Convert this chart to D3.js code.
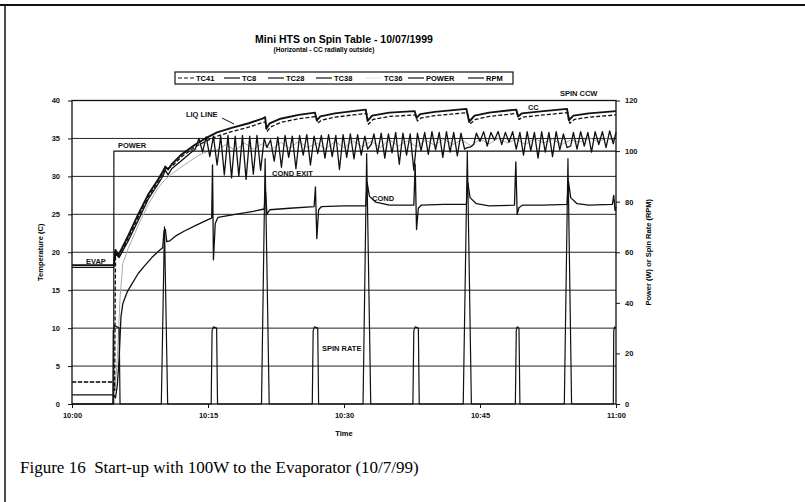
<!DOCTYPE html>
<html>
<head>
<meta charset="utf-8">
<script src="https://cdnjs.cloudflare.com/ajax/libs/d3/7.8.5/d3.min.js"></script>
<style>
  body { margin: 0; background: #fff; }
  svg { display: block; }
  text { font-family: "Liberation Sans", Arial, sans-serif; }
  text.caption { font-family: "Liberation Serif", "Times New Roman", serif; white-space: pre; }
</style>
</head>
<body>
<svg id="chart"></svg>
<script>
// time in minutes after 10:00, temperatures in C, power in W, spin rate in RPM
const xTickValues = [0, 15, 30, 45, 60];
const xTickLabels = ["10:00", "10:15", "10:30", "10:45", "11:00"];
const tempTicks = [0, 5, 10, 15, 20, 25, 30, 35, 40];
const rightTicks = [0, 20, 40, 60, 80, 100, 120];

// TC41 - dashed, runs with the liquid line (CC)
const tc41 = [[0,2.9],[4.6,2.9],[4.7,1.8],[4.8,19.9],[5.2,19.4],[5.6,20.3],[6.2,21.9],[7.3,24.6],[8.4,27.3],[9.5,29.3],
  [10.3,30.9],[11,31.3],[12,32.5],[13.6,33.9],[14.7,34.6],[16,35.3],[17.6,35.9],[19.5,36.5],[21.3,37.2],[21.5,35.9],
  [21.9,36.5],[23,37.1],[25,37.6],[26.9,37.9],[27.1,37.0],[27.5,37.4],[29,37.8],[31,38.1],[32.5,38.3],[32.7,36.9],
  [33.2,37.5],[35,37.9],[37.9,38.1],[38.1,37.3],[38.5,37.7],[40,38.0],[43.6,38.4],[43.9,36.9],[44.5,37.5],[46,37.9],
  [49.1,38.3],[49.3,37.5],[49.7,37.8],[52,38.1],[54.7,38.4],[54.9,37.0],[55.4,37.5],[57,37.8],[60,38.1]];

// TC8 - liquid line
const tc8 = [[0,18.3],[4.6,18.3],[4.8,20.3],[5.1,19.6],[5.5,20.5],[6.2,22.2],[7.3,25.0],[8.4,27.6],[9.5,29.6],[10.0,30.6],
  [10.3,31.3],[10.6,30.9],[11,31.6],[12,32.8],[13.6,34.2],[14.7,35.0],[16,35.8],[17.6,36.4],[19.5,37.0],[21.0,37.6],
  [21.3,37.8],[21.45,36.3],[21.8,37.0],[23,37.6],[25,38.1],[26.8,38.4],[27.0,37.4],[27.4,37.9],[29,38.3],[31,38.6],
  [32.4,38.8],[32.6,37.3],[33.1,38.0],[35,38.4],[37.8,38.6],[38.0,37.7],[38.4,38.2],[40,38.5],[43.5,38.9],[43.8,37.2],
  [44.4,38.0],[46,38.4],[49,38.8],[49.2,37.9],[49.6,38.3],[52,38.6],[54.6,38.9],[54.8,37.4],[55.3,38.0],[57,38.3],[60,38.6]];

// TC28 - evaporator, oscillating band
const tc28 = [[0,18.0],[4.6,18.0],[4.8,19.8],[5.2,19.3],[5.6,20.2],[6.2,21.5],[7.3,24.2],[8.4,27.0],[9.5,29.0],[10.0,30.0],
  [10.3,30.8],[10.6,30.2],[11,31.0],[12,32.0],[13,33.0],[13.6,33.6],[14.0,35.0],[14.4,33.2],[14.8,35.2],[15.2,32.6],
  [15.6,35.3],[16.0,31.5],[16.4,35.3],[16.8,30.2],[17.2,35.4],[17.6,29.8],[18.0,35.3],[18.4,30.0],[18.8,35.4],[19.2,29.6],
  [19.6,35.3],[20.0,30.3],[20.4,35.4],[20.8,30.8],[21.2,35.0],[21.5,33.8],[21.9,34.8],[22.3,32.0],[22.7,35.2],[23.1,31.2],
  [23.5,35.4],[23.9,32.5],[24.3,35.3],[24.7,31.0],[25.1,35.4],[25.5,32.8],[25.9,35.5],[26.3,31.5],[26.7,35.3],[27.1,33.0],
  [27.5,35.4],[27.9,32.4],[28.3,35.5],[28.7,32.6],[29.1,35.4],[29.5,30.9],[29.9,35.5],[30.3,32.5],[30.7,35.6],[31.1,32.3],
  [31.5,35.5],[31.9,32.8],[32.3,35.3],[32.6,33.6],[33.0,34.2],[33.3,35.6],[33.7,33.0],[34.1,35.7],[34.5,32.4],[34.9,35.6],
  [35.3,33.1],[35.7,35.8],[36.1,31.6],[36.5,35.7],[36.9,32.8],[37.3,35.6],[37.7,30.8],[38.1,35.7],[38.5,33.4],[38.9,35.8],
  [39.3,32.9],[39.7,35.9],[40.1,33.5],[40.5,35.8],[40.9,32.5],[41.3,35.9],[41.7,33.2],[42.1,35.8],[42.5,32.7],[42.9,35.7],
  [43.3,33.6],[43.6,33.8],[44.0,33.9],[44.3,34.2],[44.6,35.7],[45.0,34.6],[45.4,35.9],[45.8,34.0],[46.2,35.8],[46.6,34.8],
  [47.0,35.9],[47.4,34.2],[47.8,35.8],[48.2,34.5],[48.6,35.9],[49.0,33.6],[49.4,35.8],[49.8,32.8],[50.2,35.9],[50.6,33.4],
  [51.0,35.8],[51.4,32.4],[51.8,35.9],[52.2,33.2],[52.6,35.8],[53.0,32.6],[53.4,35.9],[53.8,33.5],[54.2,35.6],[54.6,33.8],
  [55.0,34.0],[55.3,35.8],[55.7,33.6],[56.1,35.9],[56.5,34.0],[56.9,35.8],[57.3,33.2],[57.7,35.9],[58.1,34.2],[58.5,35.9],
  [58.9,33.8],[59.3,36.0],[59.7,34.3],[60.0,35.8]];

// TC38 - condenser
const tc38 = [[0,1.2],[4.6,1.2],[4.8,0.8],[5.0,2.5],[5.2,6.0],[5.4,11.5],[5.6,13.2],[6.1,14.8],[6.6,15.8],[7.3,17.2],
  [8.0,18.2],[8.8,19.3],[9.6,20.2],[10.0,20.6],[10.15,22.8],[10.3,23.0],[10.45,21.4],[10.8,21.5],[11.5,22.2],[12.4,22.8],
  [13.6,23.5],[15.0,24.3],[15.4,24.5],[15.5,31.5],[15.6,19.0],[15.8,23.8],[16.1,24.6],[18,25.0],[20,25.4],[21.2,25.7],
  [21.35,28.0],[21.5,25.0],[21.8,25.6],[24,25.8],[26.7,26.0],[26.85,28.6],[27.0,21.8],[27.2,25.6],[27.5,26.0],[30,26.1],
  [32.4,26.1],[32.55,29.2],[32.8,27.4],[33.5,26.6],[35,26.2],[37.7,26.2],[37.85,31.6],[38.0,23.0],[38.2,25.8],[38.5,26.2],
  [41,26.3],[43.5,26.3],[43.65,29.2],[43.9,27.2],[44.6,26.4],[46,26.1],[48.8,26.2],[48.95,31.9],[49.1,25.0],[49.3,25.9],
  [49.7,26.2],[52,26.2],[54.6,26.3],[54.75,29.4],[55.0,27.2],[55.7,26.4],[57,26.2],[59.6,26.3],[59.75,27.5],[59.9,25.5],[60,26.0]];

// TC36 - condenser exit
const tc36 = [[0,2.9],[4.65,2.9],[4.75,1.8],[5.0,6.0],[5.3,14.0],[5.6,18.5],[6.2,20.5],[7.3,23.5],[8.4,26.3],[9.5,28.5],
  [10.0,29.2],[10.3,29.6],[11,30.3],[12,31.2],[13,32.0],[14,32.8],[15,33.3],[16,33.5],[17,34.2],[18,33.4],[19,34.4],
  [20,33.6],[21,34.3],[22,33.5],[23,34.5],[24,33.7],[25,34.6],[26,33.8],[27,34.4],[28,33.6],[29,34.6],[30,33.8],[31,34.7],
  [32,33.9],[33,34.6],[34,33.8],[35,34.8],[36,34.0],[37,34.7],[38,33.9],[39,34.8],[40,34.1],[41,34.9],[42,34.2],[43,34.8],
  [44,34.0],[45,34.9],[46,34.3],[47,35.0],[48,34.4],[49,34.9],[50,34.2],[51,35.0],[52,34.4],[53,34.9],[54,34.2],[55,34.8],
  [56,34.5],[57,35.1],[58,34.6],[59,35.0],[60,34.7]];

// right axis series
const power = [[0,0],[4.6,0],[4.62,100],[60,100]];
const rpm = [[0,0],[4.5,0],[4.55,29],[4.7,31],[5.2,30],[5.3,0],[9.85,0],[10.2,70],[10.55,0],[15.35,0],[15.45,29],
  [15.6,30.5],[15.95,30],[16.05,0],[20.9,0],[21.3,97],[21.75,0],[26.5,0],[26.6,29],[26.75,30.5],[27.1,30],[27.2,0],
  [32.1,0],[32.5,99],[32.95,0],[37.6,0],[37.7,29],[37.85,30.5],[38.2,30],[38.3,0],[43.15,0],[43.6,100],[44.05,0],
  [48.9,0],[49.0,29],[49.1,30.5],[49.3,30],[49.4,0],[54.3,0],[54.7,97],[55.1,0],[59.7,0],[59.75,29],[59.85,30.5],[60,30]];

const legendNames = ["TC41", "TC8", "TC28", "TC38", "TC36", "POWER", "RPM"];
const noteTexts = ["LIQ LINE", "POWER", "EVAP", "COND EXIT", "COND", "SPIN RATE", "CC", "SPIN CCW"];
const noteAt = [[12.57,37.8],[5.07,33.7],[1.54,18.45],[22.06,30.05],[33.09,26.75],[27.57,6.98],[50.29,38.75],[53.82,40.6]];

const width = 805, height = 502;
const svg = d3.select('#chart').attr('width', width).attr('height', height);
svg.append('rect').attr('width', width).attr('height', height).attr('fill', '#fff');

const x = d3.scaleLinear().domain([0, 60]).range([72, 616]);
const yT = d3.scaleLinear().domain([0, 40]).range([404, 100.5]);
const yR = d3.scaleLinear().domain([0, 120]).range([404, 100.5]);

// page frame
svg.append('line').attr('x1', 0).attr('x2', width).attr('y1', 5).attr('y2', 5)
  .attr('stroke', '#111').attr('stroke-width', 2);
svg.append('line').attr('x1', 5).attr('x2', 5).attr('y1', 5).attr('y2', height)
  .attr('stroke', '#111').attr('stroke-width', 1.5);

// gridlines
svg.append('g').selectAll('line').data(tempTicks.filter(d => d > 0 && d < 40)).join('line')
  .attr('x1', x(0)).attr('x2', x(60))
  .attr('y1', d => yT(d)).attr('y2', d => yT(d))
  .attr('stroke', '#222').attr('stroke-width', 1);

// axes
const axisL = svg.append('g').attr('transform', `translate(${x(0)},0)`)
  .call(d3.axisLeft(yT).tickValues(tempTicks).tickSize(4).tickPadding(8));
const axisR = svg.append('g').attr('transform', `translate(${x(60)},0)`)
  .call(d3.axisRight(yR).tickValues(rightTicks).tickSize(4).tickPadding(5));
const axisB = svg.append('g').attr('transform', `translate(0,${yT(0)})`)
  .call(d3.axisBottom(x).tickValues(xTickValues).tickFormat((d, i) => xTickLabels[i]).tickSize(4).tickPadding(5));
[axisL, axisR, axisB].forEach(g => {
  g.select('.domain').remove();
  g.selectAll('text').attr('font-size', 7.5).attr('font-weight', 'bold').attr('fill', '#111');
  g.selectAll('line').attr('stroke', '#111');
});

// plot box
svg.append('rect').attr('x', x(0)).attr('y', yT(40)).attr('width', x(60) - x(0)).attr('height', yT(0) - yT(40))
  .attr('fill', 'none').attr('stroke', '#111').attr('stroke-width', 1.3);

// series
const lineT = d3.line().x(d => x(d[0])).y(d => yT(d[1]));
const lineR = d3.line().x(d => x(d[0])).y(d => yR(d[1]));
const series = [
  { data: tc36, line: lineT, color: '#aaa', w: 1, dash: null },
  { data: tc38, line: lineT, color: '#111', w: 1.3, dash: null },
  { data: tc28, line: lineT, color: '#111', w: 1.3, dash: null },
  { data: power, line: lineR, color: '#111', w: 1.2, dash: null },
  { data: rpm, line: lineR, color: '#111', w: 1.2, dash: null },
  { data: tc8, line: lineT, color: '#111', w: 1.9, dash: null },
  { data: tc41, line: lineT, color: '#111', w: 1.3, dash: '4,2' }
];
svg.append('g').selectAll('path').data(series).join('path')
  .attr('d', s => s.line(s.data))
  .attr('fill', 'none')
  .attr('stroke', s => s.color)
  .attr('stroke-width', s => s.w)
  .attr('stroke-dasharray', s => s.dash)
  .attr('stroke-linejoin', 'round');

// titles
svg.append('text').attr('x', 344).attr('y', 43).attr('text-anchor', 'middle')
  .attr('font-size', 10.5).attr('font-weight', 'bold').text('Mini HTS on Spin Table - 10/07/1999');
svg.append('text').attr('x', 324).attr('y', 52).attr('text-anchor', 'middle')
  .attr('font-size', 6.5).attr('font-weight', 'bold').text('(Horizontal - CC radially outside)');

svg.append('text').attr('transform', `translate(43,${(yT(0) + yT(40)) / 2}) rotate(-90)`)
  .attr('text-anchor', 'middle').attr('font-size', 7.5).attr('font-weight', 'bold').text('Temperature (C)');
svg.append('text').attr('transform', `translate(651,${(yT(0) + yT(40)) / 2}) rotate(-90)`)
  .attr('text-anchor', 'middle').attr('font-size', 7.5).attr('font-weight', 'bold').text('Power (W) or Spin Rate (RPM)');
svg.append('text').attr('x', x(30)).attr('y', 436).attr('text-anchor', 'middle')
  .attr('font-size', 7.5).attr('font-weight', 'bold').text('Time');

// legend
const legendX = [178, 224, 268, 316, 366, 408, 468];
const legendStyle = [['#111', '4,2'], ['#111', null], ['#111', null], ['#111', null], ['#e6e6e6', null], ['#111', null], ['#111', null]];
const legend = svg.append('g');
legend.append('rect').attr('x', 175).attr('y', 72).attr('width', 338).attr('height', 12)
  .attr('fill', '#fff').attr('stroke', '#111').attr('stroke-width', 1.2);
const items = legend.selectAll('g').data(legendNames).join('g')
  .attr('transform', (d, i) => `translate(${legendX[i]},78)`);
items.append('line').attr('x1', 0).attr('x2', 16).attr('y1', 0).attr('y2', 0)
  .attr('stroke', (d, i) => legendStyle[i][0]).attr('stroke-width', 1.2)
  .attr('stroke-dasharray', (d, i) => legendStyle[i][1]);
items.append('text').attr('x', 18).attr('y', 3).attr('font-size', 7.5).attr('font-weight', 'bold').text(d => d);

// annotations
svg.append('g').selectAll('text').data(noteTexts).join('text')
  .attr('x', (d, i) => x(noteAt[i][0])).attr('y', (d, i) => yT(noteAt[i][1]))
  .attr('font-size', 7.5).attr('font-weight', 'bold').attr('fill', '#111').text(d => d);
svg.append('line').attr('x1', x(16.54)).attr('y1', yT(37.69)).attr('x2', x(17.87)).attr('y2', yT(36.9))
  .attr('stroke', '#111').attr('stroke-width', 1);

// caption
svg.append('text').attr('class', 'caption').attr('x', 20).attr('y', 473).attr('font-size', 17)
  .text('Figure 16  Start-up with 100W to the Evaporator (10/7/99)');
</script>
</body>
</html>
